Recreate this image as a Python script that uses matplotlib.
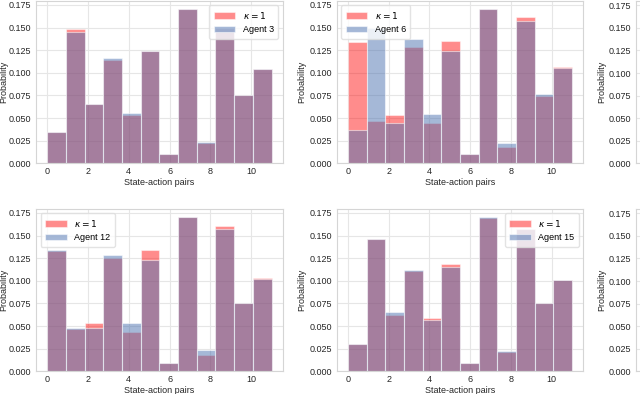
import numpy as np
import matplotlib
matplotlib.use('Agg')
import matplotlib.pyplot as plt

plt.rcParams.update({
    'font.family': ['Liberation Sans', 'DejaVu Sans'],
    'font.size': 6.5,
    'axes.edgecolor': '#d5d5d5',
    'axes.linewidth': 0.8,
    'axes.labelcolor': '#262626',
    'xtick.color': '#262626',
    'ytick.color': '#262626',
    'xtick.major.size': 0,
    'ytick.major.size': 0,
    'xtick.major.pad': 3,
    'ytick.major.pad': 3.5,
    'grid.color': '#e6e6e6',
    'grid.linewidth': 0.8,
})

# state-action pair indices (12 bins)
states = np.arange(12)

# kappa = 1 reference distribution for each panel
kappa_a3 = [0.035, 0.148, 0.066, 0.114, 0.053, 0.124, 0.010, 0.171, 0.022, 0.150, 0.075, 0.104]
kappa_a6 = [0.134, 0.047, 0.053, 0.129, 0.045, 0.135, 0.010, 0.171, 0.018, 0.162, 0.074, 0.106]
kappa_a12 = [0.133, 0.047, 0.053, 0.125, 0.043, 0.134, 0.009, 0.171, 0.018, 0.161, 0.076, 0.103]
kappa_a15 = [0.030, 0.146, 0.062, 0.111, 0.059, 0.119, 0.009, 0.169, 0.021, 0.157, 0.076, 0.101]

# agent distributions
agent3 = [0.035, 0.145, 0.066, 0.116, 0.056, 0.124, 0.010, 0.171, 0.023, 0.150, 0.076, 0.104]
agent6 = [0.037, 0.150, 0.045, 0.137, 0.055, 0.124, 0.010, 0.171, 0.022, 0.157, 0.077, 0.105]
agent12 = [0.134, 0.048, 0.048, 0.129, 0.053, 0.123, 0.009, 0.170, 0.024, 0.157, 0.076, 0.102]
agent15 = [0.030, 0.146, 0.065, 0.112, 0.057, 0.115, 0.009, 0.171, 0.022, 0.157, 0.076, 0.101]

panels = [
    (kappa_a3, agent3, 'Agent 3', 'upper right'),
    (kappa_a6, agent6, 'Agent 6', 'upper left'),
    (kappa_a12, agent12, 'Agent 12', 'upper left'),
    (kappa_a15, agent15, 'Agent 15', 'upper right'),
]

fig = plt.figure(figsize=(6.4, 3.94), dpi=100)

# axes rectangles [left, bottom, width, height]; third column is cut by the figure edge
lefts = [0.0563, 0.526, 0.9937]
bottoms = [0.5855, 0.0576]
w, h = 0.3855, 0.4125

bins = np.linspace(0, 11, 13)

for r in range(2):
    for c in range(3):
        ax = fig.add_axes([lefts[c], bottoms[r], w, h])
        ax.grid(True)
        ax.set_axisbelow(True)
        ax.set_ylabel('Probability', labelpad=0.5 if c == 0 else 2)
        ax.set_yticks([0, 0.025, 0.05, 0.075, 0.1, 0.125, 0.15, 0.175])
        ax.set_xticks([0, 2, 4, 6, 8, 10])
        if c < 2:
            k_vals, a_vals, name, loc = panels[r * 2 + c]
            ax.hist(states, bins=bins, weights=k_vals, color='red', alpha=0.45,
                    edgecolor='white', linewidth=0.8, label=r'$\kappa=1$')
            ax.hist(states, bins=bins, weights=a_vals, color='#4c72b0', alpha=0.5,
                    edgecolor='white', linewidth=0.8, label=name)
            ax.set_xlabel('State-action pairs', labelpad=1)
            ax.legend(loc=loc, frameon=True, framealpha=0.8, edgecolor='#dddddd',
                      fancybox=True, handlelength=2.4, borderpad=0.5)
        else:
            # only the left edge of this column is inside the picture
            ax.set_xlim(-0.55, 11.55)
            ax.set_ylim(0, 0.18)
            ax.set_xticklabels([])
        for s in ax.spines.values():
            s.set_color('#d5d5d5')

fig.savefig('out.png', dpi=100)
